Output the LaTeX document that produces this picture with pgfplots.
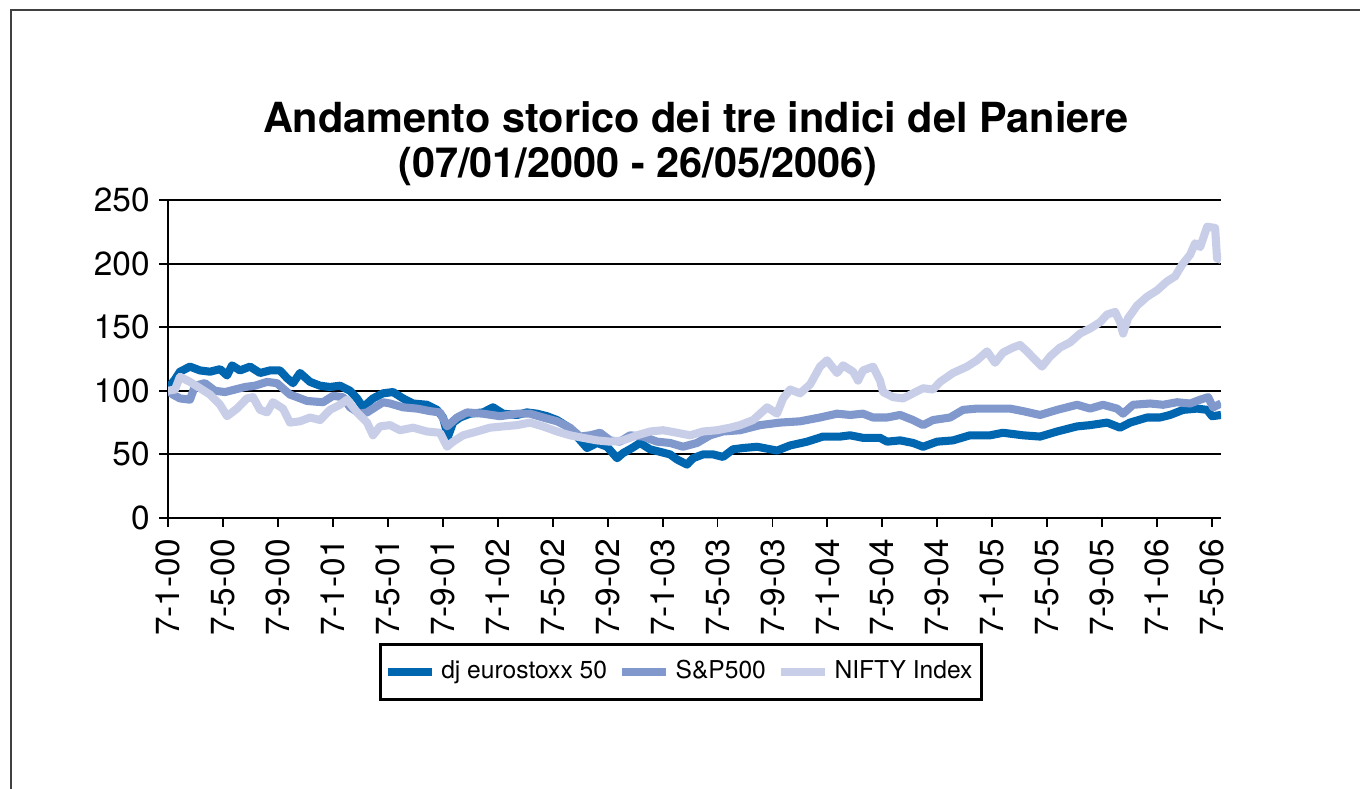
\documentclass[border=0pt]{standalone}
\usepackage{pgfplots}
\pgfplotsset{compat=1.18}
\usepackage{fontspec}
\setmainfont{TeX Gyre Heros}
\definecolor{cE}{RGB}{0,102,176}
\definecolor{cS}{RGB}{128,152,204}
\definecolor{cN}{RGB}{200,206,232}
\begin{document}
\begin{tikzpicture}
\useasboundingbox (0,0) rectangle (13.6,7.89);
\draw[line width=0.55pt, black!75] (0.11,0) -- (0.11,7.79) -- (13.6,7.79);
\node[anchor=base, font=\fontsize{11.8}{14}\selectfont\bfseries] at (6.96,6.56) {Andamento storico dei tre indici del Paniere};
\node[anchor=base, font=\fontsize{11.8}{14}\selectfont\bfseries] at (6.38,6.11) {(07/01/2000 - 26/05/2006)};
\begin{axis}[
  at={(1.68cm,2.71cm)}, anchor=south west,
  scale only axis, width=10.53cm, height=3.18cm,
  xmin=0, xmax=76.65, ymin=0, ymax=250,
  axis lines*=left,
  axis line style={line width=0.55pt, black},
  ytick={0,50,...,250},
  ymajorgrids, grid style={line width=0.55pt, black},
  xtick={0,4,...,76},
  xticklabels={7-1-00,7-5-00,7-9-00,7-1-01,7-5-01,7-9-01,7-1-02,7-5-02,7-9-02,7-1-03,7-5-03,7-9-03,7-1-04,7-5-04,7-9-04,7-1-05,7-5-05,7-9-05,7-1-06,7-5-06},
  xticklabel style={rotate=90, anchor=east, font=\fontsize{9.5}{11}\selectfont},
  yticklabel style={font=\fontsize{9.5}{11}\selectfont, xshift=0.03cm},
  /pgf/number format/assume math mode=true,
  tick align=outside, major tick length=0.09cm,
  tick style={line width=0.55pt, black},
  legend columns=3,
  legend style={at={(0.487,-0.484)}, anchor=center, draw=black, line width=0.85pt,
    font=\fontsize{7}{8}\selectfont, inner xsep=1pt, inner ysep=2.5pt,
    nodes={inner xsep=1.5pt},
    /tikz/every even column/.append style={column sep=0.06cm}},
  legend image code/.code={\draw[#1, line width=2.3pt] (0cm,0cm) -- (0.44cm,0cm);},
  every axis plot/.append style={line width=2.3pt, line join=round, mark=none},
]
\addplot[cE] coordinates {
(0,100)(0.15,104)(0.51,109)(0.87,115)(1.60,119)(2.33,116)(3.06,115)(3.79,117)(4.30,112)(4.66,120)
(5.24,116)(5.97,119)(6.70,114)(7.43,116)(8.15,116)(8.66,110)(9.10,106)(9.61,114)(10.34,107)(11.07,104)
(11.79,103)(12.52,104)(13.25,100)(13.76,94)(14.20,87)(14.92,94)(15.65,98)(16.38,99)(17.11,94)(17.84,90)
(18.85,89)(19.58,85)(20.02,79)(20.38,64)(20.75,75)(21.26,79)(21.98,82)(22.93,83)(23.66,87)(24.39,82)
(25.41,81)(26.13,83)(26.86,82)(27.59,80)(28.32,77)(29.05,72)(29.77,64)(30.50,55)(31.23,59)(31.96,56)
(32.69,47)(33.12,51)(33.78,55)(34.36,59)(35.09,54)(35.82,52)(36.54,50)(37.05,46)(37.78,42)(38.22,47)
(38.95,50)(39.67,50)(40.40,48)(41.13,54)(41.86,55)(42.88,56)(44.33,53)(45.28,57)(46.52,60)(47.68,64)
(48.92,64)(49.65,65)(50.59,63)(51.83,63)(52.34,60)(53.29,61)(54.23,59)(54.96,56)(55.98,60)(57.14,61)
(58.38,65)(59.84,65)(60.78,67)(62.24,65)(63.48,64)(64.72,68)(66.17,72)(67.12,73)(68.36,75)(69.30,71)
(70.03,75)(71.27,79)(72.21,79)(72.94,81)(73.89,85)(74.91,86)(75.64,85)(76.00,80)(76.65,81)
};
\addlegendentry{dj eurostoxx 50}
\addplot[cS] coordinates {
(0,100)(0.36,97)(0.87,94)(1.60,93)(1.97,104)(2.69,106)(3.42,100)(4.15,99)(4.88,101)(5.61,103)
(6.33,104)(7.21,107)(7.93,106)(8.88,97)(9.39,95)(10.12,92)(11.28,91)(12.01,96)(12.74,95)(13.25,87)
(13.98,82)(14.49,83)(15.65,91)(16.16,90)(17.11,87)(18.13,86)(19.07,84)(19.80,83)(20.31,72)(21.04,79)
(21.77,83)(22.93,82)(24.17,80)(25.41,82)(26.35,82)(27.30,79)(28.32,76)(29.26,71)(29.99,64)(30.72,65)
(31.45,67)(32.18,61)(32.90,60)(33.63,65)(34.58,64)(35.60,60)(36.54,59)(37.49,56)(38.51,59)(39.46,65)
(40.40,68)(41.64,69)(43.10,73)(44.55,75)(46.01,76)(47.46,79)(48.70,82)(49.65,81)(50.59,82)(51.32,79)
(52.34,79)(53.29,81)(54.23,77)(54.96,73)(55.69,77)(56.93,79)(57.87,85)(58.89,86)(59.84,86)(61.29,86)
(62.24,84)(63.48,81)(64.72,85)(66.17,89)(67.12,86)(68.06,89)(69.08,86)(69.52,82)(70.25,89)(71.49,90)
(72.43,89)(73.45,91)(74.40,90)(75.13,93)(75.71,95)(76.07,87)(76.65,90)
};
\addlegendentry{S\&P500}
\addplot[cN] coordinates {
(0,100)(0.51,101)(0.87,111)(1.60,107)(2.33,102)(3.06,97)(3.79,89)(4.30,80)(5.02,86)(5.75,94)
(6.19,95)(6.70,85)(7.21,83)(7.64,91)(8.37,86)(8.88,75)(9.61,76)(10.34,79)(11.07,77)(11.79,85)
(12.52,89)(13.03,93)(13.76,83)(14.49,75)(14.92,65)(15.43,72)(16.16,73)(16.89,69)(17.84,71)(18.85,68)
(19.80,67)(20.31,56)(20.75,60)(21.48,65)(22.49,68)(23.44,71)(24.39,72)(25.41,73)(26.35,75)(27.30,72)
(28.32,68)(29.26,65)(30.21,63)(31.23,61)(32.18,60)(33.12,61)(34.14,65)(35.09,68)(36.03,69)(37.05,67)
(38.00,65)(38.95,68)(39.97,69)(40.91,71)(41.64,73)(42.59,77)(43.61,87)(44.33,82)(44.77,94)(45.28,101)
(46.01,98)(46.74,105)(47.46,119)(47.97,124)(48.70,114)(49.14,120)(49.87,115)(50.23,108)(50.59,116)(51.32,119)
(51.83,108)(52.05,99)(52.78,95)(53.51,94)(54.23,98)(54.96,102)(55.69,101)(56.20,107)(57.14,114)(58.16,119)
(58.89,124)(59.62,131)(60.20,122)(60.78,130)(61.51,134)(62.02,136)(62.53,131)(62.97,126)(63.62,119)(64.21,127)
(64.93,134)(65.66,138)(66.39,145)(67.12,149)(67.85,154)(68.36,160)(68.94,162)(69.30,154)(69.52,145)(69.88,157)
(70.54,167)(71.27,174)(72.00,179)(72.72,186)(73.31,190)(73.81,199)(74.40,207)(74.76,216)(75.13,213)(75.64,229)
(76.22,228)(76.36,204)(76.65,203)
};
\addlegendentry{NIFTY Index}
\end{axis}
\end{tikzpicture}
\end{document}
